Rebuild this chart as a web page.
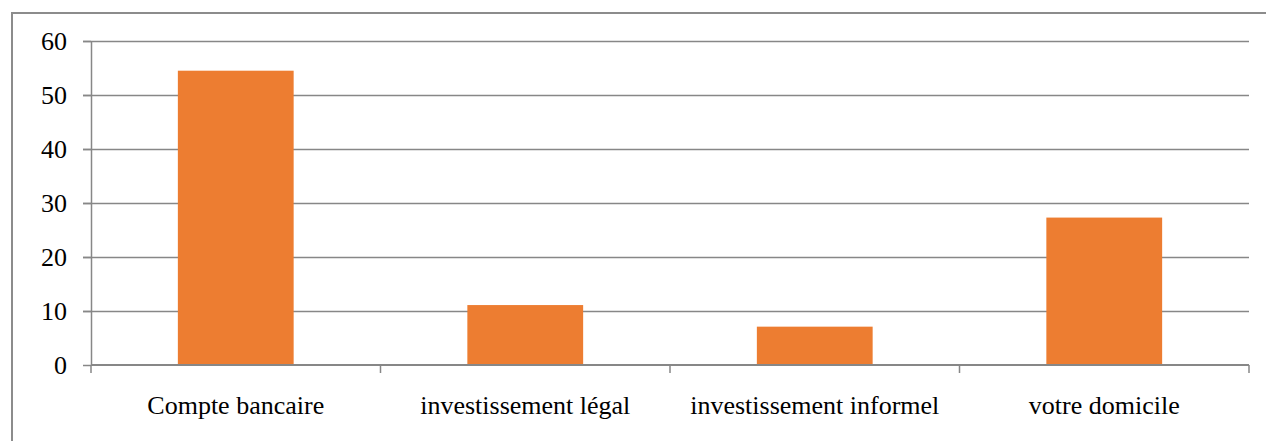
<!DOCTYPE html>
<html>
<head>
<meta charset="utf-8">
<script src="https://cdn.jsdelivr.net/npm/d3@7"></script>
<style>
	body { margin: 0; background: #fff; }
</style>
</head>
<body>
<div id="barChart"></div>
<script>
const categories = ["Compte bancaire", "investissement légal", "investissement informel", "votre domicile"];
const values = [54.5, 11.1, 7.1, 27.3];
const yTicks = [0, 10, 20, 30, 40, 50, 60];

function createBarChart() {
	width = 1266;
	height = 441;
	margin = { top: 41, right: 17, bottom: 76, left: 91 };

	x = d3
		.scaleBand()
		.domain(categories)
		.range([margin.left, width - margin.right])
		.paddingInner(0.6)
		.paddingOuter(0.3);

	y = d3
		.scaleLinear()
		.domain([0, 60])
		.range([height - margin.bottom, margin.top]);

	const svg = d3
		.select("div#barChart")
		.append("svg")
		.attr("width", width)
		.attr("height", height);

	// outer frame of the chart area
	svg
		.append("rect")
		.attr("x", 12)
		.attr("y", 13)
		.attr("width", width + 10)
		.attr("height", height + 10)
		.attr("fill", "none")
		.attr("stroke", "#8c8c8c")
		.attr("stroke-width", 2);

	// gridlines
	svg
		.append("g")
		.attr("class", "grid")
		.selectAll("line")
		.data(yTicks.filter((d) => d > 0))
		.join("line")
		.attr("x1", margin.left - 8)
		.attr("x2", width - margin.right)
		.attr("y1", (d) => Math.round(y(d)) + 0.5)
		.attr("y2", (d) => Math.round(y(d)) + 0.5)
		.attr("stroke", "#878787")
		.attr("stroke-width", 1.5);

	svg
		.append("g")
		.selectAll("rect")
		.data(values)
		.join("rect")
		.attr("x", (d, i) => x(categories[i]))
		.attr("y", (d) => y(d))
		.attr("width", x.bandwidth())
		.attr("height", (d) => y(0) - y(d))
		.attr("fill", "#ed7d31");

	yAxis = (g) =>
		g
			.attr("transform", `translate(${margin.left}, 0)`)
			.call(
				d3
					.axisLeft(y)
					.tickValues(yTicks)
					.tickSize(8)
					.tickPadding(16)
					.tickSizeOuter(0)
			)
			.attr("font-family", "Liberation Serif")
			.attr("font-size", 26)
			.call((g) => g.selectAll("line, path").attr("stroke", "#878787").attr("stroke-width", 1.5))
			.call((g) => g.selectAll("text").attr("fill", "#000"));

	// category boundaries for the x ticks
	const bounds = categories.map((c) => x(c) - x.step() * 0.3).concat([width - margin.right]);

	xAxis = (g) =>
		g.attr("transform", `translate(0, ${height - margin.bottom})`).call((g) => {
			g.append("line")
				.attr("x1", margin.left)
				.attr("x2", width - margin.right)
				.attr("stroke", "#878787")
				.attr("stroke-width", 2);
			g.selectAll("line.tick")
				.data(bounds)
				.join("line")
				.attr("class", "tick")
				.attr("x1", (d) => d)
				.attr("x2", (d) => d)
				.attr("y1", 0)
				.attr("y2", 8)
				.attr("stroke", "#878787")
				.attr("stroke-width", 1.5);
			g.selectAll("text")
				.data(categories)
				.join("text")
				.attr("x", (d) => x(d) + x.bandwidth() / 2)
				.attr("y", 49)
				.attr("text-anchor", "middle")
				.attr("font-family", "Liberation Serif")
				.attr("font-size", 26)
				.text((d) => d);
		});

	svg.append("g").attr("class", "yAxis").call(yAxis);
	svg.append("g").attr("class", "xAxis").call(xAxis);
}

createBarChart();
</script>
</body>
</html>
